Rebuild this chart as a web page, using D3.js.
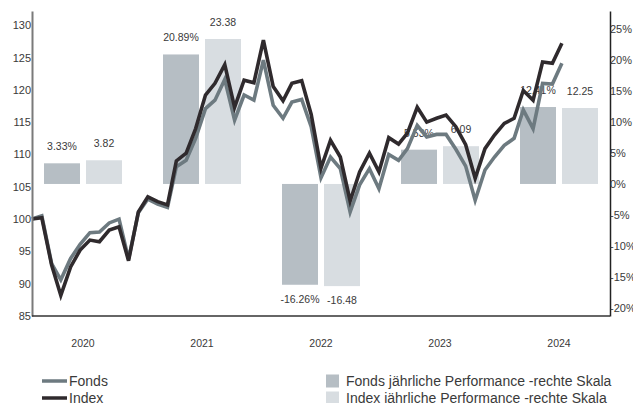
<!DOCTYPE html>
<html>
<head>
<meta charset="utf-8">
<script src="https://cdn.jsdelivr.net/npm/d3@7"></script>
<style>
  body { margin: 0; background: #fff; }
  text { font-family: "Liberation Sans", Arial, Helvetica, sans-serif; fill: #3a3a3a; }
</style>
</head>
<body>
<svg id="drawing_region"></svg>
<script>
// yearly performance bars (right scale, %)
var years = ['2020', '2021', '2022', '2023', '2024'];
var fondsPerf = [3.33, 20.89, -16.26, 5.53, 12.41];
var indexPerf = [3.82, 23.38, -16.48, 6.09, 12.25];
var fondsPerfLabels = ['3.33%', '20.89%', '-16.26%', '5.53%', '12.41%'];
var indexPerfLabels = ['3.82', '23.38', '-16.48', '6.09', '12.25'];

// month-end values, Dec 2019 .. Jul 2024 (left scale)
var startMonth = new Date(2019, 11, 31);
var fondsValues = [100.0, 100.5, 93.1, 90.6, 93.9, 96.1, 97.9, 98.0, 99.4, 100.0, 93.8, 101.0,
  103.1, 102.3, 101.8, 108.1, 109.1, 112.5, 117.1, 118.4, 121.6, 115.3, 119.2, 118.4,
  124.6, 117.6, 115.6, 118.1, 118.5, 114.3, 106.4, 109.6, 107.8, 101.1, 105.3, 107.8,
  104.7, 110.0, 109.1, 110.9, 114.5, 112.7, 113.1, 113.1, 110.8, 108.2, 102.9, 107.6,
  109.6, 111.4, 112.5, 116.9, 114.0, 121.0, 120.9, 124.1];
var indexValues = [100.0, 100.2, 92.9, 88.2, 92.6, 95.2, 96.75, 96.5, 98.3, 98.8, 93.55, 101.1,
  103.45, 102.7, 102.2, 109.0, 110.2, 114.0, 119.2, 121.0, 123.9, 117.3, 121.5, 121.1,
  127.7, 120.5, 118.3, 121.0, 121.4, 116.2, 107.9, 112.2, 109.6, 102.8, 107.3, 110.2,
  107.3, 112.6, 111.6, 113.3, 117.3, 115.0, 115.6, 116.1, 114.3, 111.5, 106.3, 110.9,
  113.0, 114.8, 115.6, 119.9, 118.4, 124.3, 124.1, 127.2];

var leftTicks = [85, 90, 95, 100, 105, 110, 115, 120, 125, 130];
var rightTicks = [-20, -15, -10, -5, 0, 5, 10, 15, 20, 25];

var lineNames = ['Fonds', 'Index'];
var barNames = ['Fonds jährliche Performance -rechte Skala', 'Index jährliche Performance -rechte Skala'];

var colFondsLine = '#6d7a80';
var colIndexLine = '#2f2a2d';
var colFondsBar = '#b6bec4';
var colIndexBar = '#d8dde1';

var width = 633;
var height = 403;
var margin = {top: 11, right: 23, bottom: 87, left: 32};
var inner_width = width - margin.left - margin.right;
var inner_height = height - margin.top - margin.bottom;

var svg = d3.select('#drawing_region')
    .attr('width', width)
    .attr('height', height);

var chart = svg.append('g')
    .attr('transform', `translate(${margin.left}, ${margin.top})`);

// scales
var monthDate = i => d3.timeMonth.offset(startMonth, i);
var n = fondsValues.length;
var xscale = d3.scaleTime()
    .domain([startMonth, monthDate(n - 1)])
    .range([0, 529.9]);

var yleft = d3.scaleLinear()
    .domain([85, 132.2])
    .range([inner_height, 0]);

var yright = d3.scaleLinear()
    .domain([-21.3, 27.9])
    .range([inner_height, 0]);

var yearscale = d3.scaleBand()
    .domain(years)
    .range([-8.5, 586.5]);

var pairscale = d3.scaleBand()
    .domain(['fonds', 'index'])
    .range([yearscale.bandwidth() / 2 - 39, yearscale.bandwidth() / 2 + 39])
    .paddingInner(6 / 42);

// bars
var barData = [];
years.forEach((y, i) => {
  barData.push({year: y, key: 'fonds', value: fondsPerf[i], label: fondsPerfLabels[i], color: colFondsBar});
  barData.push({year: y, key: 'index', value: indexPerf[i], label: indexPerfLabels[i], color: colIndexBar});
});

chart.selectAll('rect.bar')
    .data(barData)
    .join('rect')
    .attr('class', 'bar')
    .attr('x', d => yearscale(d.year) + pairscale(d.key))
    .attr('width', pairscale.bandwidth())
    .attr('y', d => yright(Math.max(0, d.value)))
    .attr('height', d => Math.abs(yright(d.value) - yright(0)))
    .attr('fill', d => d.color);

chart.selectAll('text.barlabel')
    .data(barData)
    .join('text')
    .attr('class', 'barlabel')
    .attr('x', d => yearscale(d.year) + pairscale(d.key) + pairscale.bandwidth() / 2)
    .attr('y', d => d.value >= 0 ? yright(d.value) - 13 : yright(d.value) + 18)
    .attr('text-anchor', 'middle')
    .style('font-size', '10.5px')
    .text(d => d.label);

// lines
var line = d3.line()
    .x((d, i) => xscale(monthDate(i)))
    .y(d => yleft(d));

chart.append('path')
    .datum(fondsValues)
    .attr('d', line)
    .attr('fill', 'none')
    .attr('stroke', colFondsLine)
    .attr('stroke-width', 3.6)
    .attr('stroke-linejoin', 'miter');

chart.append('path')
    .datum(indexValues)
    .attr('d', line)
    .attr('fill', 'none')
    .attr('stroke', colIndexLine)
    .attr('stroke-width', 3.6)
    .attr('stroke-linejoin', 'miter');

// axes
var yaxisLeft = d3.axisLeft(yleft).tickValues(leftTicks).tickSize(0).tickPadding(1);
var leftGroup = chart.append('g').call(yaxisLeft);
leftGroup.select('.domain').attr('stroke', '#7a7a7a').attr('stroke-width', 2);
leftGroup.selectAll('text').style('font-size', '11px').attr('fill', '#3a3a3a');

var yaxisRight = d3.axisRight(yright).tickValues(rightTicks).tickSize(0).tickPadding(0)
    .tickFormat(d => d + '%');
var rightGroup = chart.append('g')
    .attr('transform', `translate(${inner_width}, 0)`)
    .call(yaxisRight);
rightGroup.select('.domain').attr('stroke', '#222').attr('stroke-width', 1.5);
rightGroup.selectAll('text').style('font-size', '11px').attr('fill', '#3a3a3a');

var xaxis = d3.axisBottom(yearscale).tickSize(0).tickPadding(24);
var bottomGroup = chart.append('g')
    .attr('transform', `translate(0, ${inner_height})`)
    .call(xaxis);
bottomGroup.select('.domain').remove();
bottomGroup.selectAll('text').style('font-size', '10.5px').attr('fill', '#3a3a3a');
bottomGroup.append('line')
    .attr('x1', 0).attr('x2', inner_width)
    .attr('stroke', '#333').attr('stroke-width', 1.5);

// legend
var legend = svg.append('g');
var lineCols = [colFondsLine, colIndexLine];
var barCols = [colFondsBar, colIndexBar];

var lineItems = legend.selectAll('g.li')
    .data(lineNames)
    .join('g')
    .attr('class', 'li')
    .attr('transform', (d, i) => `translate(42, ${381 + i * 17})`);
lineItems.append('line')
    .attr('x1', 0).attr('x2', 25)
    .attr('stroke', (d, i) => lineCols[i])
    .attr('stroke-width', 3.5);
lineItems.append('text')
    .attr('x', 27).attr('dy', '0.35em')
    .style('font-size', '14px')
    .text(d => d);

var barItems = legend.selectAll('g.bi')
    .data(barNames)
    .join('g')
    .attr('class', 'bi')
    .attr('transform', (d, i) => `translate(326, ${381 + i * 17})`);
barItems.append('rect')
    .attr('y', -6.5).attr('width', 13).attr('height', 13)
    .attr('fill', (d, i) => barCols[i]);
barItems.append('text')
    .attr('x', 20).attr('dy', '0.35em')
    .style('font-size', '14px')
    .text(d => d);
</script>
</body>
</html>
